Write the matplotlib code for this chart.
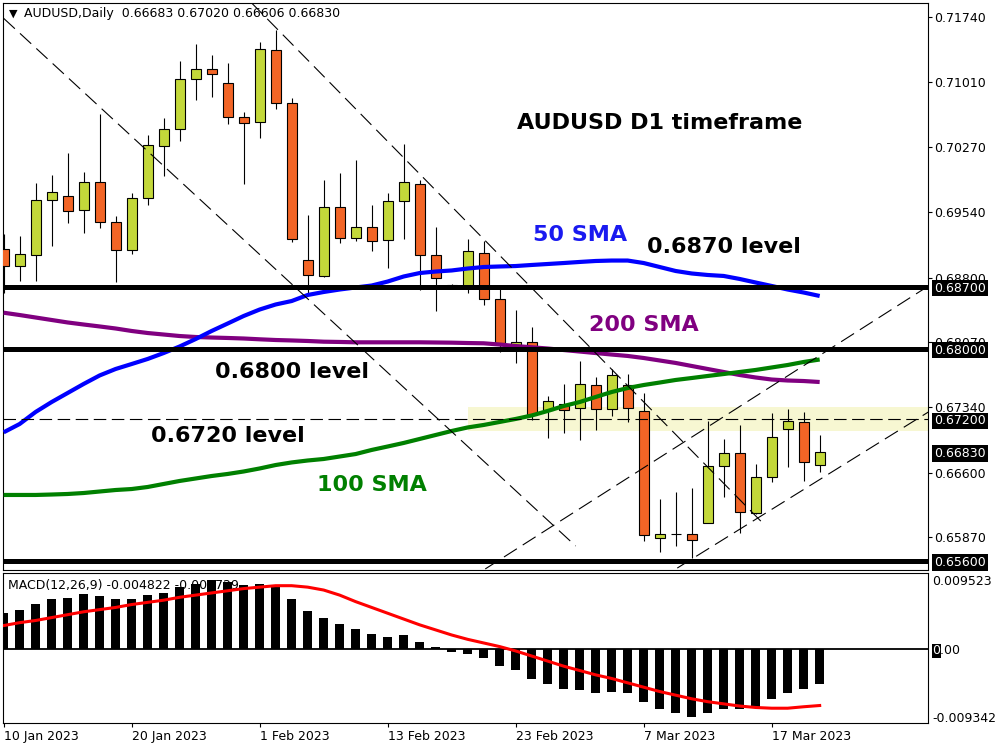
import matplotlib
matplotlib.use("Agg")
import matplotlib.pyplot as plt
import matplotlib.transforms as mtransforms
import numpy as np
import pandas as pd

plt.rcParams['font.family'] = ['DejaVu Sans']
plt.rcParams['lines.scale_dashes'] = False

# Data (AUDUSD daily)
dates = pd.bdate_range('2023-01-10', periods=52)
opens = [0.69123, 0.68931, 0.69052, 0.69673, 0.69718, 0.69560, 0.69876, 0.69425, 0.69109, 0.69696,
         0.70282, 0.70474, 0.71039, 0.71151, 0.70993, 0.70610, 0.70553, 0.71366, 0.70768, 0.68996,
         0.68815, 0.69594, 0.69244, 0.69368, 0.69221, 0.69662, 0.69854, 0.69052, 0.68715, 0.68691,
         0.69075, 0.68556, 0.68040, 0.68077, 0.67306, 0.67370, 0.67325, 0.67585, 0.67314, 0.67585,
         0.67295, 0.65858, 0.65910, 0.65903, 0.66034, 0.66671, 0.66817, 0.66140, 0.66546, 0.67088,
         0.67167, 0.66683]
highs = [0.69293, 0.69270, 0.69868, 0.69958, 0.70203, 0.69992, 0.70644, 0.69492, 0.69752, 0.70407,
         0.70602, 0.71245, 0.71437, 0.71313, 0.71223, 0.70666, 0.71456, 0.71595, 0.70824, 0.69504,
         0.69899, 0.69981, 0.70128, 0.69617, 0.69752, 0.70308, 0.69902, 0.69372, 0.68725, 0.69231,
         0.69210, 0.68668, 0.68435, 0.68246, 0.67464, 0.67600, 0.67856, 0.67675, 0.67765, 0.67712,
         0.67501, 0.66302, 0.66377, 0.66426, 0.67179, 0.66975, 0.67133, 0.66693, 0.67269, 0.67314,
         0.67280, 0.67020]
lows = [0.68627, 0.68762, 0.68766, 0.69161, 0.69420, 0.69307, 0.69364, 0.68754, 0.69063, 0.69617,
        0.69944, 0.70339, 0.70802, 0.70835, 0.70531, 0.69853, 0.70373, 0.70700, 0.69199, 0.68604,
        0.68810, 0.69194, 0.69217, 0.69104, 0.68912, 0.69233, 0.68657, 0.68420, 0.68685, 0.68632,
        0.68486, 0.67961, 0.67833, 0.67193, 0.66993, 0.67050, 0.66964, 0.67077, 0.67242, 0.67174,
        0.65824, 0.65700, 0.65774, 0.65632, 0.66027, 0.66328, 0.65914, 0.66129, 0.66497, 0.66666,
        0.66508, 0.66606]
closes = [0.68931, 0.69063, 0.69673, 0.69763, 0.69549, 0.69876, 0.69425, 0.69109, 0.69696, 0.70294,
          0.70474, 0.71039, 0.71151, 0.71095, 0.70610, 0.70542, 0.71377, 0.70768, 0.69233, 0.68826,
          0.69594, 0.69244, 0.69368, 0.69210, 0.69662, 0.69876, 0.69052, 0.68793, 0.68705, 0.69101,
          0.68562, 0.68059, 0.68077, 0.67250, 0.67408, 0.67306, 0.67596, 0.67314, 0.67698, 0.67325,
          0.65892, 0.65903, 0.65905, 0.65835, 0.66671, 0.66817, 0.66151, 0.66546, 0.66998, 0.67179,
          0.66716, 0.66830]

sma50 = [0.67054, 0.67148, 0.67284, 0.67396, 0.67498, 0.67600, 0.67696, 0.67769, 0.67825, 0.67882,
         0.67949, 0.68023, 0.68107, 0.68198, 0.68282, 0.68367, 0.68440, 0.68497, 0.68536, 0.68604,
         0.68638, 0.68666, 0.68689, 0.68711, 0.68756, 0.68813, 0.68852, 0.68869, 0.68881, 0.68903,
         0.68920, 0.68926, 0.68931, 0.68943, 0.68954, 0.68965, 0.68977, 0.68988, 0.68993, 0.68993,
         0.68965, 0.68920, 0.68875, 0.68847, 0.68830, 0.68819, 0.68785, 0.68745, 0.68706, 0.68666,
         0.68632, 0.68593]
sma100 = [0.66347, 0.66347, 0.66347, 0.66352, 0.66358, 0.66369, 0.66386, 0.66403, 0.66414, 0.66437,
          0.66471, 0.66505, 0.66533, 0.66561, 0.66584, 0.66612, 0.66646, 0.66685, 0.66714, 0.66736,
          0.66753, 0.66781, 0.66809, 0.66855, 0.66894, 0.66934, 0.66979, 0.67024, 0.67069, 0.67109,
          0.67137, 0.67171, 0.67205, 0.67244, 0.67295, 0.67351, 0.67396, 0.67453, 0.67509, 0.67554,
          0.67588, 0.67616, 0.67645, 0.67667, 0.67690, 0.67712, 0.67735, 0.67758, 0.67786, 0.67814,
          0.67848, 0.67876]
sma200 = [0.68404, 0.68378, 0.68350, 0.68322, 0.68294, 0.68271, 0.68249, 0.68226, 0.68198, 0.68175,
          0.68158, 0.68141, 0.68130, 0.68124, 0.68119, 0.68113, 0.68104, 0.68096, 0.68091, 0.68085,
          0.68077, 0.68074, 0.68070, 0.68070, 0.68070, 0.68070, 0.68070, 0.68068, 0.68066, 0.68062,
          0.68059, 0.68045, 0.68028, 0.68014, 0.68000, 0.67983, 0.67966, 0.67949, 0.67932, 0.67916,
          0.67893, 0.67865, 0.67837, 0.67803, 0.67769, 0.67735, 0.67701, 0.67673, 0.67650, 0.67639,
          0.67633, 0.67622]

macd = [0.00501, 0.00538, 0.00621, 0.00690, 0.00717, 0.00759, 0.00731, 0.00690, 0.00690, 0.00745,
        0.00786, 0.00855, 0.00906, 0.00952, 0.00924, 0.00883, 0.00910, 0.00883, 0.00703, 0.00524,
        0.00441, 0.00349, 0.00276, 0.00207, 0.00179, 0.00193, 0.00110, 0.00028, -0.00037, -0.00069,
        -0.00124, -0.00221, -0.00280, -0.00409, -0.00478, -0.00547, -0.00561, -0.00602, -0.00589, -0.00602,
        -0.00726, -0.00823, -0.00878, -0.00934, -0.00878, -0.00823, -0.00818, -0.00795, -0.00680, -0.00600,
        -0.00550, -0.004822]
signal = [0.0033, 0.0037, 0.0040, 0.0044, 0.0048, 0.0052, 0.0055, 0.0058, 0.0062, 0.0065,
          0.0068, 0.0072, 0.0075, 0.0078, 0.0081, 0.0084, 0.0086, 0.0088, 0.0088, 0.0086,
          0.0082, 0.0075, 0.0066, 0.0058, 0.0050, 0.0042, 0.0034, 0.0027, 0.0020, 0.0014,
          0.0009, 0.0004, -0.0002, -0.0009, -0.0016, -0.0023, -0.0029, -0.0035, -0.0040, -0.0046,
          -0.0052, -0.0058, -0.0063, -0.0068, -0.0072, -0.0075, -0.0078, -0.0080, -0.0081, -0.0081,
          -0.0079, -0.007729]

# levels and drawn objects
key_levels = [0.6870, 0.6800, 0.6560]
mid_level = 0.6720
zone = (0.6707, 0.6734)
trendlines = [((0.0, 0.71727), (35.75, 0.65771)),
              ((15.5, 0.71900), (47.5, 0.66019)),
              ((30.1, 0.65512), (57.8, 0.68706)),
              ((42.1, 0.65522), (57.8, 0.67284))]
price_ticks = [0.71740, 0.71010, 0.70270, 0.69540, 0.68800, 0.68070, 0.67340, 0.66600, 0.65870]
date_ticks = ['2023-01-10', '2023-01-20', '2023-02-01', '2023-02-13', '2023-02-23', '2023-03-07', '2023-03-17']

GREEN = '#C3D83A'
RED = '#F26526'

fig = plt.figure(figsize=(10, 7.5), dpi=100)
ax = fig.add_axes([0.003, 0.24, 0.925, 0.756])
ax2 = fig.add_axes([0.003, 0.036, 0.925, 0.2])

x = np.arange(len(opens))
o = np.array(opens)
c = np.array(closes)
up = c >= o

# yellow zone
ax.fill_between([29, 60], zone[0], zone[1], color='#F7F7D2', lw=0, zorder=1)

# candles
ax.vlines(x, lows, highs, color='black', lw=0.8, zorder=2)
ax.bar(x, np.abs(c - o), bottom=np.minimum(o, c), width=0.62,
       color=np.where(up, GREEN, RED), edgecolor='black', linewidth=0.8, zorder=3)

# moving averages
ax.plot(x, sma200, color='#800080', lw=3, zorder=4, solid_capstyle='butt')
ax.plot(x, sma100, color='#008000', lw=3, zorder=4, solid_capstyle='butt')
ax.plot(x, sma50, color='#0000FF', lw=3, zorder=4, solid_capstyle='butt')

# levels
for lv in key_levels:
    ax.axhline(lv, color='black', lw=3.6, zorder=5)
ax.axhline(mid_level, color='black', lw=0.8, dashes=(9, 4), zorder=5)
for (x0, y0), (x1, y1) in trendlines:
    ax.plot([x0, x1], [y0, y1], color='black', lw=0.8, dashes=(11, 5), zorder=5)

ax.set_xlim(-0.04, 57.77)
ax.set_ylim(0.6550, 0.7190)
ax.yaxis.tick_right()
ax.set_yticks(price_ticks)
ax.set_yticklabels([f'{v:.5f}' for v in price_ticks])
ax.tick_params(axis='y', length=3, width=0.8, pad=1.5, labelsize=9)
ax.tick_params(axis='x', bottom=False, labelbottom=False)
for s in ax.spines.values():
    s.set_linewidth(0.8)

# price boxes on the right
lab_tr = mtransforms.offset_copy(ax.get_yaxis_transform(), fig=fig, x=4.5, units='points')
for v in key_levels + [mid_level, closes[-1]]:
    ax.text(1, v, f'{v:.5f}', transform=lab_tr, ha='left', va='center_baseline',
            color='white', fontsize=9, clip_on=False, zorder=10,
            bbox=dict(boxstyle='square,pad=0.15', fc='black', ec='none'))

# header
ax.text(0.006, 0.9806, '\u25bc', transform=ax.transAxes, fontsize=8, va='center', ha='left')
ax.text(0.0227, 0.9806, f'AUDUSD,Daily  {opens[-1]:.5f} {highs[-1]:.5f} {lows[-1]:.5f} {closes[-1]:.5f}',
        transform=ax.transAxes, fontsize=9, va='center', ha='left')

# annotations
bold = dict(fontsize=16, fontweight='bold', ha='center', va='center', zorder=8)
ax.text(41.0, 0.70545, 'AUDUSD D1 timeframe', color='black', **bold)
ax.text(36.0, 0.69281, '50 SMA', color='#1A1AF0', **bold)
ax.text(45.0, 0.69146, '0.6870 level', color='black', **bold)
ax.text(40.0, 0.68265, '200 SMA', color='#800080', **bold)
ax.text(18.0, 0.67738, '0.6800 level', color='black', **bold)
ax.text(14.0, 0.67016, '0.6720 level', color='black', **bold)
ax.text(23.0, 0.66460, '100 SMA', color='#008000', **bold)

# MACD panel
ax2.text(0.0054, 0.92, f'MACD(12,26,9) {macd[-1]:.6f} {signal[-1]:.6f}',
         transform=ax2.transAxes, fontsize=9, va='center', ha='left', zorder=1)
ax2.axhline(0, color='black', lw=1.3, zorder=1.5)
ax2.bar(x, macd, width=0.58, color='black', zorder=2)
ax2.plot(x, signal, color='#FF0000', lw=2.2, zorder=3)
ax2.set_xlim(-0.04, 57.77)
ax2.set_ylim(-0.01014, 0.01055)
ax2.yaxis.tick_right()
ax2.set_yticks([0.009523, 0.0, -0.009342])
ax2.set_yticklabels(['0.009523', '0.00', '-0.009342'])
ax2.tick_params(axis='y', length=0, pad=3, labelsize=9)
zero_tr = mtransforms.offset_copy(ax2.get_yaxis_transform(), fig=fig, x=3, units='points')
ax2.text(1, 0, '0', transform=zero_tr, ha='left', va='center_baseline', color='white',
         fontsize=9, clip_on=False, zorder=10,
         bbox=dict(boxstyle='square,pad=0.05', fc='black', ec='none'))

tick_pos = [dates.get_loc(pd.Timestamp(d)) for d in date_ticks]
ax2.set_xticks(tick_pos)
ax2.set_xticklabels([pd.Timestamp(d).strftime('%-d %b %Y') for d in date_ticks], ha='left')
ax2.tick_params(axis='x', length=3, width=0.8, pad=2, labelsize=9)
for s in ax2.spines.values():
    s.set_linewidth(0.8)

fig.savefig('out.png', dpi=100, facecolor='white')
